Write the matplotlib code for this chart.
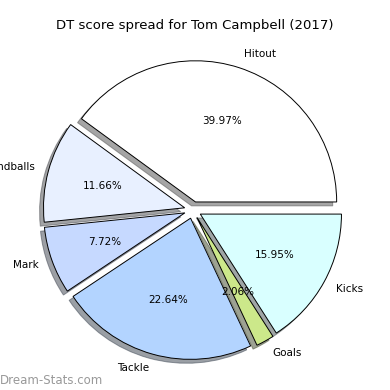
import matplotlib
matplotlib.use("Agg")
import matplotlib.pyplot as plt

# DT points per stat category
categories = ["Hitout", "Handballs", "Mark", "Tackle", "Goals", "Kicks"]
points = [233, 68, 45, 132, 12, 93]
colors = ["#ffffff", "#e8f0ff", "#c6d9ff", "#b3d4ff", "#cce88a", "#d9ffff"]
explode = [0.06] * len(categories)

fig = plt.figure(figsize=(3.9, 3.9), dpi=100)
ax = fig.add_axes([0.042, 0.009, 0.905, 0.905])

ax.pie(points, labels=categories, colors=colors, explode=explode,
       autopct="%1.2f%%", shadow=True, startangle=0,
       wedgeprops={"edgecolor": "black", "linewidth": 0.7},
       textprops={"fontsize": 7.5})
ax.set_aspect("equal")

fig.suptitle("DT score spread for Tom Campbell (2017)", fontsize=9.5, y=0.95)
fig.text(0.0, 0.015, "Dream-Stats.com", fontsize=8.5, color="#999999")

fig.savefig("out.png", dpi=100)
